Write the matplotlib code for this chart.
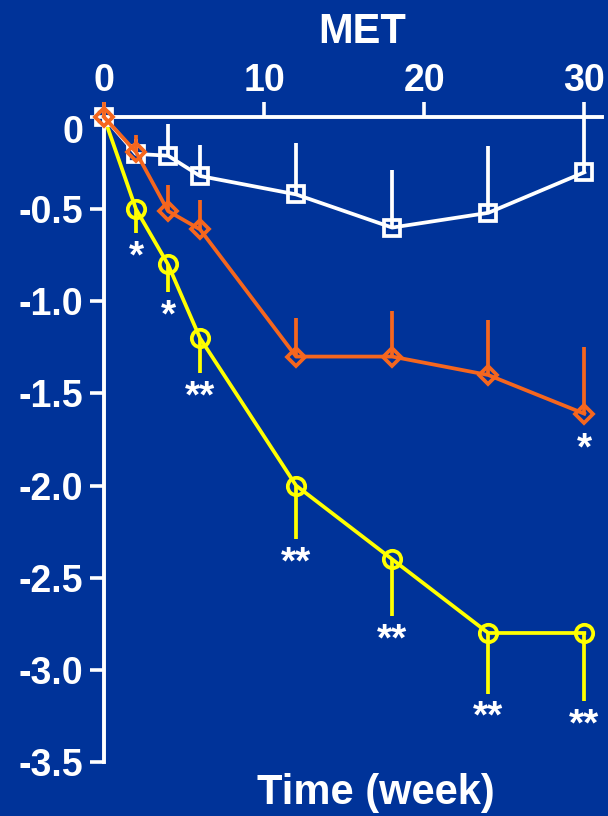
import matplotlib
matplotlib.use("Agg")
import matplotlib.pyplot as plt
import matplotlib.transforms as mtransforms

weeks = [0, 2, 4, 6, 12, 18, 24, 30]

# MET group (white squares), error drawn upward
met = [0.0, -0.2, -0.21, -0.32, -0.42, -0.60, -0.52, -0.30]
met_err = [0.0, 0.08, 0.17, 0.17, 0.28, 0.31, 0.36, 0.30]

# orange diamonds, error drawn upward
orange = [0.0, -0.19, -0.51, -0.61, -1.30, -1.30, -1.40, -1.61]
orange_err = [0.08, 0.09, 0.14, 0.16, 0.21, 0.25, 0.30, 0.36]
orange_sig = ["", "", "", "", "", "", "", "*"]

# yellow circles, error drawn downward
yellow = [0.0, -0.5, -0.8, -1.2, -2.0, -2.4, -2.8, -2.8]
yellow_err = [0.0, 0.13, 0.15, 0.19, 0.29, 0.31, 0.33, 0.37]
yellow_sig = ["", "*", "*", "**", "**", "**", "**", "**"]

xticks = [0, 10, 20, 30]
yticks = [0, -0.5, -1.0, -1.5, -2.0, -2.5, -3.0, -3.5]
ytick_labels = ["0", "-0.5", "-1.0", "-1.5", "-2.0", "-2.5", "-3.0", "-3.5"]

bg = "#003399"
c_orange = "#F5661E"
c_yellow = "#FFFF00"
lw = 2.7

plt.rcParams["font.family"] = ["Liberation Sans", "DejaVu Sans"]
plt.rcParams["font.weight"] = "bold"

fig = plt.figure(figsize=(6.08, 8.16), dpi=100, facecolor=bg)
ax = fig.add_axes([0.171, 0.0662, 0.819, 0.7904])
ax.set_facecolor(bg)

zero = [0] * len(weeks)
series = [
    (yellow, [yellow_err, zero], c_yellow, "o", 12.5, slice(1, None), 2),
    (met, [zero, met_err], "white", "s", 11.5, None, 3),
    (orange, [zero, orange_err], c_orange, "D", 9, None, 4),
]
for vals, err, col, mk, ms, every, z in series:
    eb = ax.errorbar(weeks, vals, yerr=err, color=col, ecolor=col, lw=lw,
                     elinewidth=lw, capsize=0, marker=mk, ms=ms, mew=lw,
                     mfc="none", mec=col, markevery=every, zorder=z)
    for art in eb.get_children():
        art.set_clip_on(False)

# significance stars below the bars
for x, v, e, s in zip(weeks, yellow, yellow_err, yellow_sig):
    if s:
        ax.annotate(s, (x, v - e), xytext=(0, -34), textcoords="offset pixels",
                    ha="center", va="baseline", color="white", fontsize=28,
                    fontweight="bold", annotation_clip=False)
for x, v, s in zip(weeks, orange, orange_sig):
    if s:
        ax.annotate(s, (x, v), xytext=(0, -46), textcoords="offset pixels",
                    ha="center", va="baseline", color="white", fontsize=28,
                    fontweight="bold", annotation_clip=False)

ax.set_xlim(0, 31.1)
ax.set_ylim(-3.5, 0)
ax.xaxis.tick_top()
ax.set_xticks(xticks)
ax.set_xticklabels([str(t) for t in xticks])
ax.set_yticks(yticks)
ax.set_yticklabels(ytick_labels)
ax.tick_params(axis="x", colors="white", labelsize=27, width=2.6, length=11, pad=2)
ax.tick_params(axis="y", colors="white", labelsize=27, width=2.6, length=10, pad=5)
for lab in ax.get_xticklabels() + ax.get_yticklabels():
    lab.set_fontweight("bold")

# nudge the "0" label down so it clears the top axis
shift = mtransforms.ScaledTranslation(0, -12 / 100, fig.dpi_scale_trans)
lab0 = ax.get_yticklabels()[0]
lab0.set_transform(lab0.get_transform() + shift)

for side in ["right", "bottom"]:
    ax.spines[side].set_visible(False)
for side in ["top", "left"]:
    ax.spines[side].set_color("white")
    ax.spines[side].set_linewidth(2.8)

fig.text(0.595, 0.961, "MET", ha="center", va="center", color="white",
         fontsize=30, fontweight="bold")
fig.text(0.618, 0.028, "Time (week)", ha="center", va="center", color="white",
         fontsize=30, fontweight="bold")

fig.savefig("out.png", dpi=100, facecolor=bg)
